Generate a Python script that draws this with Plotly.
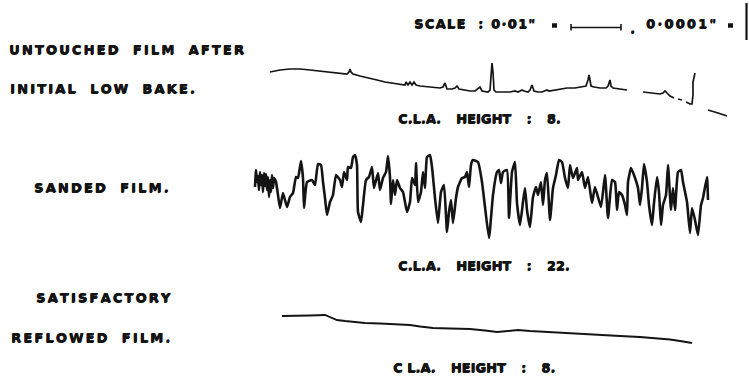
import plotly.graph_objects as go

# Stylus traverse position and stylus deflection (downward positive) for each film.
untouched_pos = [270, 280, 290, 300, 310, 320, 330, 340, 347, 349, 350, 351, 353, 360, 370, 377, 385, 393,
                 400, 405, 406, 408, 410, 412, 414, 416, 420, 430, 440, 443, 445, 447, 452, 455, 457, 459,
                 465, 470, 475, 478, 480, 482, 488, 490, 491, 492, 493, 494, 496, 500, 505, 510, 515, 518,
                 520, 522, 524, 528, 530, 532, 534, 538, 542, 545, 547, 549, 555, 560, 567, 575, 582, 586,
                 588, 589, 590, 591, 594, 600, 606, 608, 610, 611, 613, 620, 627, None, 643, 650, 655, 660,
                 663, 665, 667, 670, 674, None, 678, 682, None, 686, 690, 692, 693, 693, 694, 695, None,
                 708, 712, 718, 724, 727]
untouched_dev = [72, 70, 69, 69, 70, 71, 72, 73, 74, 72, 69, 72, 74, 76, 78, 80, 82, 83,
                 84, 85, 82, 85, 82, 85, 82, 85, 86, 87, 88, 87, 83, 89, 89, 88, 86, 89,
                 90, 91, 91, 89, 87, 91, 92, 90, 72, 63, 72, 90, 92, 92, 92, 92, 91, 92,
                 91, 90, 91, 92, 90, 85, 91, 92, 92, 91, 90, 91, 90, 89, 88, 88, 87, 86,
                 80, 75, 80, 86, 87, 88, 88, 86, 80, 86, 88, 89, 90, None, 92, 93, 94, 94,
                 93, 91, 93, 96, 98, None, 99, 100, None, 102, 104, 104, 95, 82, 75, 73, None,
                 110, 111, 113, 115, 116]

sanded_pos = [255, 256, 257, 258, 259, 260, 261, 262, 263, 264, 265, 266, 267, 268, 269, 270, 271, 272,
              273, 274, 276, 278, 280, 283, 287, 290, 293, 296, 298, 301, 303, 304, 307, 312, 315, 318,
              321, 323, 325, 327, 330, 333, 336, 340, 342, 344, 347, 348, 351, 353, 355, 357, 358, 361,
              363, 366, 369, 372, 374, 378, 380, 383, 386, 388, 390, 391, 393, 395, 397, 400, 403, 407,
              410, 412, 415, 416, 418, 421, 423, 425, 427, 430, 432, 435, 438, 441, 444, 447, 449, 451,
              453, 456, 458, 462, 465, 467, 469, 471, 473, 478, 482, 485, 489, 493, 497, 499, 501, 503,
              507, 509, 512, 515, 517, 520, 523, 525, 527, 530, 533, 536, 538, 541, 543, 545, 547, 550,
              553, 556, 559, 562, 565, 568, 570, 573, 577, 578, 582, 585, 588, 592, 595, 601, 605, 608,
              612, 615, 617, 619, 622, 625, 627, 628, 631, 634, 638, 640, 642, 644, 647, 649, 652, 654,
              657, 659, 661, 663, 666, 668, 671, 673, 675, 678, 681, 683, 687, 690, 692, 695, 698, 701,
              703, 707, 708]
sanded_dev = [187, 170, 182, 176, 190, 172, 185, 175, 192, 173, 186, 174, 190, 177, 197, 180, 192, 175,
              188, 178, 182, 195, 208, 193, 207, 197, 193, 177, 178, 161, 178, 208, 182, 180, 185, 164,
              165, 182, 198, 215, 202, 195, 175, 180, 187, 172, 180, 167, 168, 157, 155, 165, 212, 222,
              205, 180, 177, 167, 188, 173, 190, 178, 172, 156, 177, 204, 180, 195, 180, 188, 192, 212,
              202, 178, 185, 163, 202, 192, 172, 188, 157, 155, 167, 198, 223, 192, 185, 232, 212, 200,
              223, 198, 187, 178, 177, 172, 187, 165, 160, 162, 182, 207, 238, 195, 172, 170, 183, 172,
              170, 218, 172, 162, 203, 225, 202, 188, 210, 227, 197, 187, 195, 182, 205, 180, 173, 220,
              188, 175, 160, 162, 178, 188, 165, 178, 168, 180, 172, 188, 177, 203, 187, 207, 175, 218,
              180, 182, 210, 192, 195, 205, 215, 182, 168, 175, 188, 205, 188, 164, 182, 205, 225, 203,
              177, 192, 225, 205, 195, 165, 210, 188, 210, 172, 170, 182, 202, 233, 208, 220, 235, 205,
              198, 177, 200]

reflowed_pos = [282, 295, 310, 325, 330, 337, 345, 353, 365, 380, 393, 410, 420, 433, 450, 470, 485,
                497, 508, 518, 530, 547, 557, 570, 585, 603, 620, 640, 657, 670, 680, 692]
reflowed_dev = [316, 316, 315.5, 315, 317, 320, 321, 322, 323, 323.5, 324, 325, 326.5, 328, 328.5,
                329, 330.5, 332, 331, 330, 331, 332, 333, 333.5, 334, 335, 336, 337, 338, 339.5, 341, 343]

film_labels = ["UNTOUCHED FILM AFTER", "INITIAL LOW BAKE.", "SANDED FILM.", "SATISFACTORY", "REFLOWED FILM."]
film_label_x = [7, 8, 32, 34, 9]
film_label_y = [49, 88, 187, 297, 337]
cla_labels = ["C.L.A. HEIGHT : 8.", "C.L.A. HEIGHT : 22.", "C\u00a0L.A. HEIGHT : 8."]
cla_x = [396, 396, 391]
cla_y = [119, 265, 367]
scale_parts = ["SCALE", ":", "0·01\"", ".", "0·0001\""]
scale_x = [412, 476, 489, 628, 644]
scale_y = [24, 24, 24, 28, 24]

W, H = 749, 376
INK = "#141414"
HAIR, SIXTH = "\u200a", "\u2006"


def spaced(text, gap, word_gap):
    return word_gap.join(gap.join(word) for word in text.split(" "))


fig = go.Figure()
fig.add_trace(go.Scatter(x=untouched_pos, y=untouched_dev, mode="lines", yaxis="y",
                         line=dict(color=INK, width=1.7), connectgaps=False, hoverinfo="skip"))
fig.add_trace(go.Scatter(x=sanded_pos, y=sanded_dev, mode="lines", yaxis="y2",
                         line=dict(color=INK, width=2.6, shape="spline", smoothing=0.4),
                         hoverinfo="skip"))
fig.add_trace(go.Scatter(x=reflowed_pos, y=reflowed_dev, mode="lines", yaxis="y3",
                         line=dict(color=INK, width=1.8), hoverinfo="skip"))

hidden = dict(visible=False, fixedrange=True)
fig.update_layout(
    width=W, height=H, margin=dict(l=0, r=0, t=0, b=0),
    paper_bgcolor="white", plot_bgcolor="white", showlegend=False,
    xaxis=dict(range=[0, W], domain=[0, 1], **hidden),
    yaxis=dict(range=[125, 50], domain=[(H - 125) / H, (H - 50) / H], **hidden),
    yaxis2=dict(range=[250, 140], domain=[(H - 250) / H, (H - 140) / H], **hidden),
    yaxis3=dict(range=[355, 300], domain=[(H - 355) / H, (H - 300) / H], **hidden),
)

font = dict(family="DejaVu Sans", size=13, color=INK, weight="bold",
            shadow=f"0.6px 0 0 {INK}, 0 0.5px 0 {INK}")


def label(text, x, y):
    fig.add_annotation(text=text, x=x / W, y=1 - y / H, xref="paper", yref="paper",
                       xanchor="left", yanchor="middle", showarrow=False, font=font)


for txt, x, y in zip(film_labels, film_label_x, film_label_y):
    label(spaced(txt, SIXTH, "\u2003" + HAIR), x, y)
for txt, x, y in zip(cla_labels, cla_x, cla_y):
    label(spaced(txt, "", "\u2003\u2006"), x, y)

# Scale legend along the top
for i, (txt, x, y) in enumerate(zip(scale_parts, scale_x, scale_y)):
    label(spaced(txt, SIXTH if i == 4 else HAIR, " "), x, y)
for x0, x1 in [(552, 557), (728, 733)]:
    fig.add_shape(type="line", xref="paper", yref="paper", line=dict(color=INK, width=4.5),
                  x0=x0 / W, x1=x1 / W, y0=1 - 25.5 / H, y1=1 - 25.5 / H)
fig.add_shape(type="line", xref="paper", yref="paper", line=dict(color=INK, width=1.4),
              x0=571 / W, x1=621 / W, y0=1 - 27.5 / H, y1=1 - 27.5 / H)
for xt in (571, 621):
    fig.add_shape(type="line", xref="paper", yref="paper", line=dict(color=INK, width=1.6),
                  x0=xt / W, x1=xt / W, y0=1 - 24 / H, y1=1 - 30.5 / H)
fig.add_shape(type="line", xref="paper", yref="paper", line=dict(color=INK, width=2.2),
              x0=746.5 / W, x1=746.5 / W, y0=1 - 3 / H, y1=1 - 40 / H)

fig.write_html("out.html")
